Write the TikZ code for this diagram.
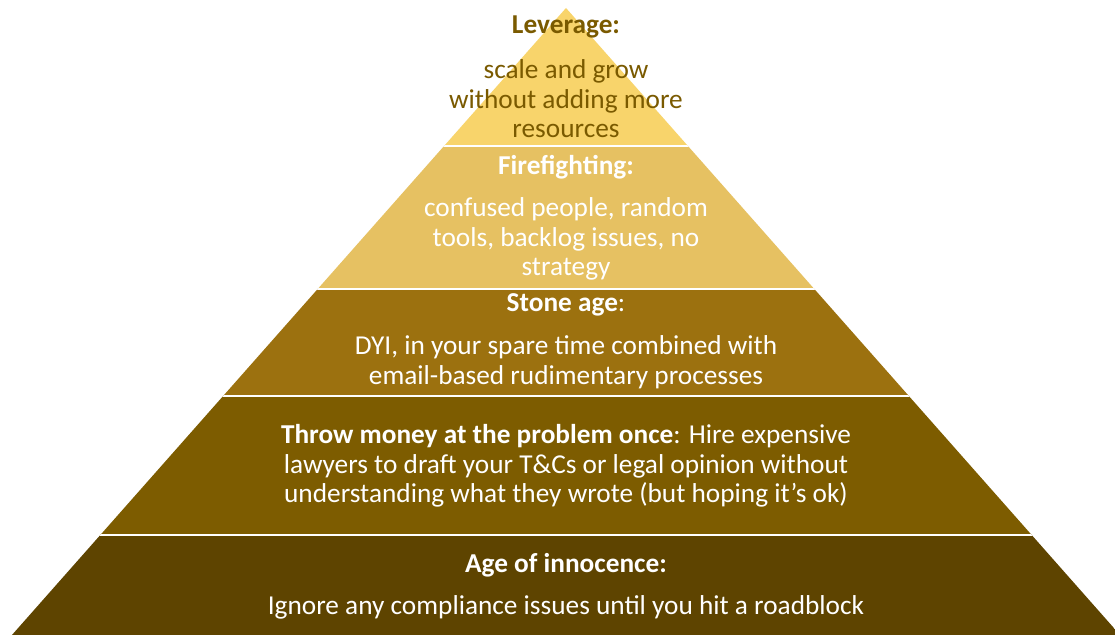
\documentclass[tikz,border=0pt]{standalone}
\usepackage{fontspec}
\setmainfont{Carlito}
\definecolor{tierA}{HTML}{F8D46B}
\definecolor{tierB}{HTML}{E6C162}
\definecolor{tierC}{HTML}{9C710F}
\definecolor{tierD}{HTML}{7D5C00}
\definecolor{tierE}{HTML}{5E4400}
\definecolor{darktext}{HTML}{7A5A00}
\tikzset{
  label/.style={inner sep=0pt, align=center, font=\fontsize{27.3}{29.5}\selectfont},
  dark/.style={label, text=darktext},
  light/.style={label, text=white},
  divider/.style={draw=white, line width=2.2pt}
}
\begin{document}
\begin{tikzpicture}[x=1pt,y=-1pt]
\useasboundingbox (0,0) rectangle (1115,634);
\fill[white] (0,0) rectangle (1115,634);
% pyramid outline used as clip, bands stacked inside
\coordinate (apex) at (566,8);
\coordinate (baseL) at (4,644);
\coordinate (baseR) at (1128,644);
\begin{scope}
  \clip (apex) -- (baseL) -- (baseR) -- cycle;
  \fill[tierA] (0,0) rectangle (1115,146);
  \fill[tierB] (0,146) rectangle (1115,289);
  \fill[tierC] (0,289) rectangle (1115,396);
  \fill[tierD] (0,396) rectangle (1115,535);
  \fill[tierE] (0,535) rectangle (1115,650);
  \draw[divider] (0,146) -- (1115,146);
  \draw[divider] (0,289) -- (1115,289);
  \draw[divider] (0,396) -- (1115,396);
  \draw[divider] (0,535) -- (1115,535);
\end{scope}
% top tier
\node[dark] (levT) at (566,27) {\textbf{Leverage:}};
\node[dark] (levB) at (566,99) {scale and grow\\without adding more\\resources};
% second tier
\node[light] (fireT) at (566,167) {\textbf{Firefighting:}};
\node[light] (fireB) at (566,239) {confused people, random\\tools, backlog issues, no\\strategy};
% third tier
\node[light] (stoneT) at (566,305) {\textbf{Stone age}:};
\node[light] (stoneB) at (566,362) {DYI, in your spare time combined with\\email-based rudimentary processes};
% fourth tier
\node[light] (moneyB) at (566,466) {\textbf{Throw money at the problem once}: Hire expensive\\lawyers to draft your T\&Cs or legal opinion without\\understanding what they wrote (but hoping it’s ok)};
% base tier
\node[light] (innoT) at (566,565) {\textbf{Age of innocence:}};
\node[light] (innoB) at (566,607) {Ignore any compliance issues until you hit a roadblock};
\end{tikzpicture}
\end{document}
